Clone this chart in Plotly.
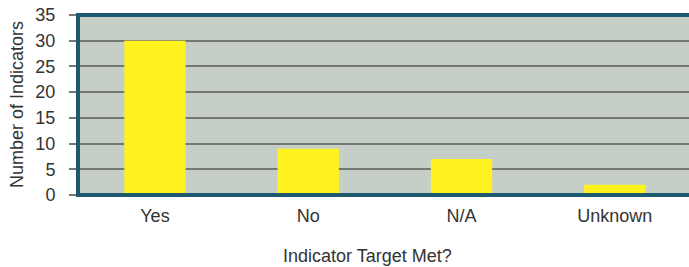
import plotly.graph_objects as go

categories = ["Yes", "No", "N/A", "Unknown"]
counts = [30, 9, 7, 2]
y_ticks = [0, 5, 10, 15, 20, 25, 30, 35]

font = "Liberation Sans, Arial, sans-serif"
txt = "#333333"
fig = go.Figure(go.Bar(
    x=categories, y=counts, width=0.4,
    marker=dict(color="#fff21f", line=dict(width=0)),
    hoverinfo="skip",
))
fig.update_layout(
    width=689, height=267,
    margin=dict(l=78, r=0, t=15, b=72, autoexpand=False),
    plot_bgcolor="#c5cfc7", paper_bgcolor="white",
    font=dict(family=font, size=18, color=txt),
    showlegend=False,
    xaxis=dict(showgrid=False, showline=False, zeroline=False, ticks="",
               tickfont=dict(size=18, color=txt), range=[-0.502, 3.484],
               ticklabelstandoff=8),
    yaxis=dict(range=[0, 35], tickvals=y_ticks, showgrid=True, gridcolor="#747775",
               gridwidth=2, zeroline=False, showline=False, ticks="outside",
               ticklen=8, tickwidth=2, tickcolor="#747775", ticklabeloverflow="allow",
               tickfont=dict(size=18, color=txt), ticklabelstandoff=10),
    shapes=[dict(type="rect", xref="paper", yref="paper", x0=0, x1=1.02, y0=0, y1=1,
                 line=dict(color="#1d5a70", width=4), fillcolor="rgba(0,0,0,0)", layer="above")],
    annotations=[
        dict(text="Indicator Target Met?", xref="paper", yref="paper",
             x=0.473, y=0, yshift=-61, yanchor="middle", xanchor="center", showarrow=False,
             font=dict(size=18, color=txt)),
        dict(text="Number of Indicators", xref="paper", yref="paper", textangle=-90,
             x=0, xshift=-61, y=0.5, xanchor="center", yanchor="middle", showarrow=False,
             font=dict(size=18, color=txt)),
    ],
)
fig.write_html("out.html", config={"displayModeBar": False},
               post_script="document.body.style.margin='0';")
